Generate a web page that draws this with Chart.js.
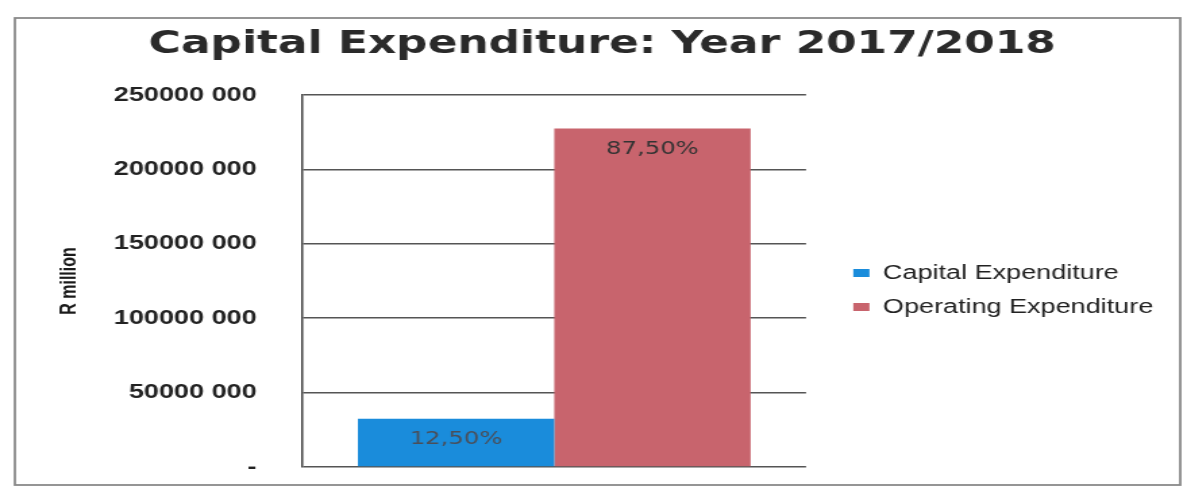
<!DOCTYPE html>
<html>
<head>
<meta charset="utf-8">
<title>Capital Expenditure: Year 2017/2018</title>
<script src="https://cdn.jsdelivr.net/npm/chart.js@4"></script>
<style>
  html, body { margin: 0; padding: 0; background: #fff; overflow: hidden; }
  /* the chart is laid out narrow and widened, which gives the broad lettering */
  #wrap { width: 879px; height: 490px; transform: scaleX(1.3504); transform-origin: 0 0; }
</style>
</head>
<body>
<div id="wrap"><canvas id="myChart" width="879" height="490"></canvas></div>
<script>
// one category, two spending lines (rand)
var categories = [''];
var capitalExp = [32500000];
var operatingExp = [227500000];
var seriesNames = ['Capital Expenditure', 'Operating Expenditure'];
var yTicks = [0, 50000000, 100000000, 150000000, 200000000, 250000000];

var total = capitalExp[0] + operatingExp[0];

// "250000 000" style tick text, dash for zero
function tickText(v) {
  if (v === 0) return '-';
  return Math.floor(v / 1000) + ' ' + String(v % 1000).padStart(3, '0');
}

// share of total written inside the top of each bar
var shareLabels = {
  id: 'shareLabels',
  afterDatasetsDraw: function(chart) {
    var ctx = chart.ctx;
    ctx.save();
    ctx.font = '18px "DejaVu Sans"';
    ctx.textAlign = 'center';
    ctx.textBaseline = 'middle';
    chart.data.datasets.forEach(function(ds, i) {
      var bar = chart.getDatasetMeta(i).data[0];
      var pct = (ds.data[0] / total * 100).toFixed(2).replace('.', ',') + '%';
      ctx.fillStyle = i === 0 ? '#4a4f5a' : '#333';
      ctx.fillText(pct, bar.x, bar.y + 21);
    });
    ctx.restore();
  }
};

// white page and grey frame round the whole chart
var frame = {
  id: 'frame',
  beforeDraw: function(chart) {
    var ctx = chart.ctx;
    ctx.save();
    ctx.fillStyle = '#fff';
    ctx.fillRect(0, 0, chart.width, chart.height);
    ctx.restore();
  },
  afterDraw: function(chart) {
    var ctx = chart.ctx;
    ctx.save();
    ctx.strokeStyle = '#8a8a8a';
    ctx.lineWidth = 1.8;
    ctx.strokeRect(11, 18, 863, 467);
    ctx.restore();
  }
};

// nudge the legend away from the plot and the title a little right
var nudge = {
  id: 'nudge',
  afterLayout: function(chart) {
    chart.legend.left += 21;
    chart.legend.right += 21;
    chart.legend.top += 45;
    chart.legend.bottom += 45;
    chart.titleBlock.left += 4;
    chart.titleBlock.right += 4;
  }
};

Chart.defaults.font.family = '"Liberation Sans"';
Chart.defaults.color = '#222';

var ctx = document.getElementById('myChart');
var myChart = new Chart(ctx, {
  type: 'bar',
  data: {
    labels: categories,
    datasets: [{
      label: seriesNames[0],
      data: capitalExp,
      backgroundColor: '#1a8cdb',
      categoryPercentage: 0.78,
      barPercentage: 1
    }, {
      label: seriesNames[1],
      data: operatingExp,
      backgroundColor: '#c8646d',
      categoryPercentage: 0.78,
      barPercentage: 1
    }]
  },
  plugins: [frame, shareLabels, nudge],
  options: {
    responsive: false,
    animation: false,
    layout: { padding: { left: 41, right: 36, top: 0, bottom: 0 } },
    plugins: {
      title: {
        display: true,
        text: 'Capital Expenditure: Year 2017/2018',
        font: { family: '"DejaVu Sans"', size: 32.5, weight: 'bold' },
        color: '#2a2a2a',
        padding: { top: 25, bottom: 31 }
      },
      legend: {
        position: 'right',
        maxWidth: 300,
        labels: {
          boxWidth: 12,
          boxHeight: 8,
          padding: 14,
          font: { size: 20 },
          color: '#222'
        }
      },
      tooltip: { enabled: false }
    },
    scales: {
      x: {
        ticks: { display: false },
        grid: { display: false },
        border: { display: false },
        afterFit: function(scale) { scale.height = 23; }
      },
      y: {
        min: 0,
        max: 250000000,
        afterBuildTicks: function(scale) {
          scale.ticks = yTicks.map(function(v) { return { value: v }; });
        },
        afterFit: function(scale) { scale.width = 183; },
        border: { display: true, color: '#444', width: 1.5 },
        grid: { color: '#555', lineWidth: 1.5, drawTicks: true, tickLength: 34, tickColor: 'rgba(0,0,0,0)' },
        ticks: {
          padding: 0,
          font: { size: 20, weight: 'bold' },
          color: '#222',
          callback: function(v) { return tickText(v); }
        },
        title: {
          display: true,
          text: 'R million',
          font: { size: 16, weight: 'bold' },
          color: '#1a1a1a',
          padding: { top: 1, bottom: 0 }
        }
      }
    }
  }
});
</script>
</body>
</html>
